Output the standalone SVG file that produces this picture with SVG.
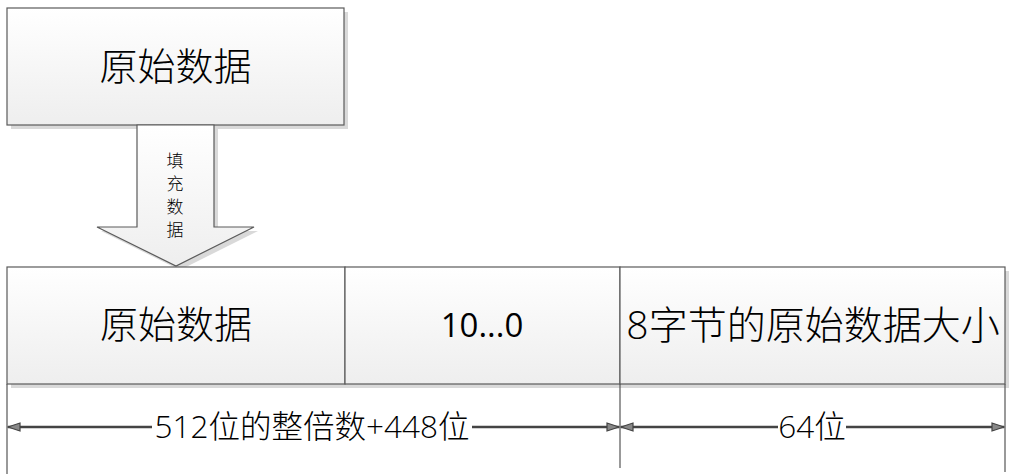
<svg xmlns="http://www.w3.org/2000/svg" width="1010" height="476" viewBox="0 0 1010 476">
<style>
.box{fill:url(#g);stroke:#5a5a5a;stroke-width:1.2}
.sh{fill:#d9d9d9}
.cjk{font-family:"Noto Sans CJK SC","Liberation Sans",sans-serif;fill:#000}
.lat{font-family:"Open Sans","Noto Sans CJK SC",sans-serif;fill:#000}
.dim{stroke:#444;stroke-width:2.5;fill:none}
.tick{stroke:#555;stroke-width:1.2}
</style>
<defs>
<linearGradient id="g" x1="0" y1="0" x2="0" y2="1">
<stop offset="0" stop-color="#ffffff"/>
<stop offset="1" stop-color="#eeeeee"/>
</linearGradient>
<marker id="ah" viewBox="0 0 14 10" refX="13" refY="5" markerWidth="14" markerHeight="10" markerUnits="userSpaceOnUse" orient="auto-start-reverse">
<path d="M1,1 L13,5 L1,9 Z" fill="#888" stroke="#444" stroke-width="1.2"/>
</marker>
</defs>
<g id="top-box">
<rect class="sh" x="11" y="12" width="337" height="117"/>
<rect class="box" x="7" y="8" width="337" height="117"/>
<text class="cjk" x="175.5" y="80" font-size="38" text-anchor="middle" font-weight="300">原始数据</text>
</g>
<g id="fill-arrow">
<path d="M141,129 L218,129 L218,231 L258,231 L180,270 L101,231 L141,231 Z" class="sh"/>
<path d="M137,125 L214,125 L214,227 L254,227 L176,266 L97,227 L137,227 Z" class="box"/>
<text class="cjk" font-size="17" text-anchor="middle" font-weight="300"><tspan x="175" y="167">填</tspan><tspan x="175" y="190">充</tspan><tspan x="175" y="213">数</tspan><tspan x="175" y="236">据</tspan></text>
</g>
<g id="data-box">
<rect class="sh" x="11" y="271" width="338" height="117"/>
<rect class="box" x="7" y="267" width="338" height="117"/>
<text class="cjk" x="176" y="338" font-size="38" text-anchor="middle" font-weight="300">原始数据</text>
</g>
<g id="pad-box">
<rect class="sh" x="349" y="271" width="275" height="117"/>
<rect class="box" x="345" y="267" width="275" height="117"/>
<text class="lat" x="482" y="337" font-size="33" text-anchor="middle">10...0</text>
</g>
<g id="len-box">
<rect class="sh" x="624" y="271" width="385" height="117"/>
<rect class="box" x="620" y="267" width="385" height="117"/>
<text class="cjk" x="813" y="339" font-size="39" text-anchor="middle" font-weight="300"><tspan style="font-family:'Open Sans',sans-serif">8</tspan>字节的原始数据大小</text>
</g>
<g id="connectors">
<line class="tick" x1="7" y1="384" x2="7" y2="474"/>
<line class="tick" x1="620" y1="384" x2="620" y2="468"/>
<line class="tick" x1="1005" y1="384" x2="1005" y2="472"/>
<line class="dim" x1="152" y1="427" x2="8" y2="427" marker-end="url(#ah)"/>
<line class="dim" x1="472" y1="427" x2="619" y2="427" marker-end="url(#ah)"/>
<line class="dim" x1="778" y1="427" x2="621" y2="427" marker-end="url(#ah)"/>
<line class="dim" x1="846" y1="427" x2="1004" y2="427" marker-end="url(#ah)"/>
</g>
<g id="labels">
<text class="cjk" x="312" y="438" font-size="31.5" text-anchor="middle" font-weight="300"><tspan style="font-family:'Open Sans',sans-serif">512</tspan>位的整倍数<tspan style="font-family:'Open Sans',sans-serif">+448</tspan>位</text>
<text class="cjk" x="812" y="438" font-size="31.5" text-anchor="middle" font-weight="300"><tspan style="font-family:'Open Sans',sans-serif">64</tspan>位</text>
</g>
</svg>
